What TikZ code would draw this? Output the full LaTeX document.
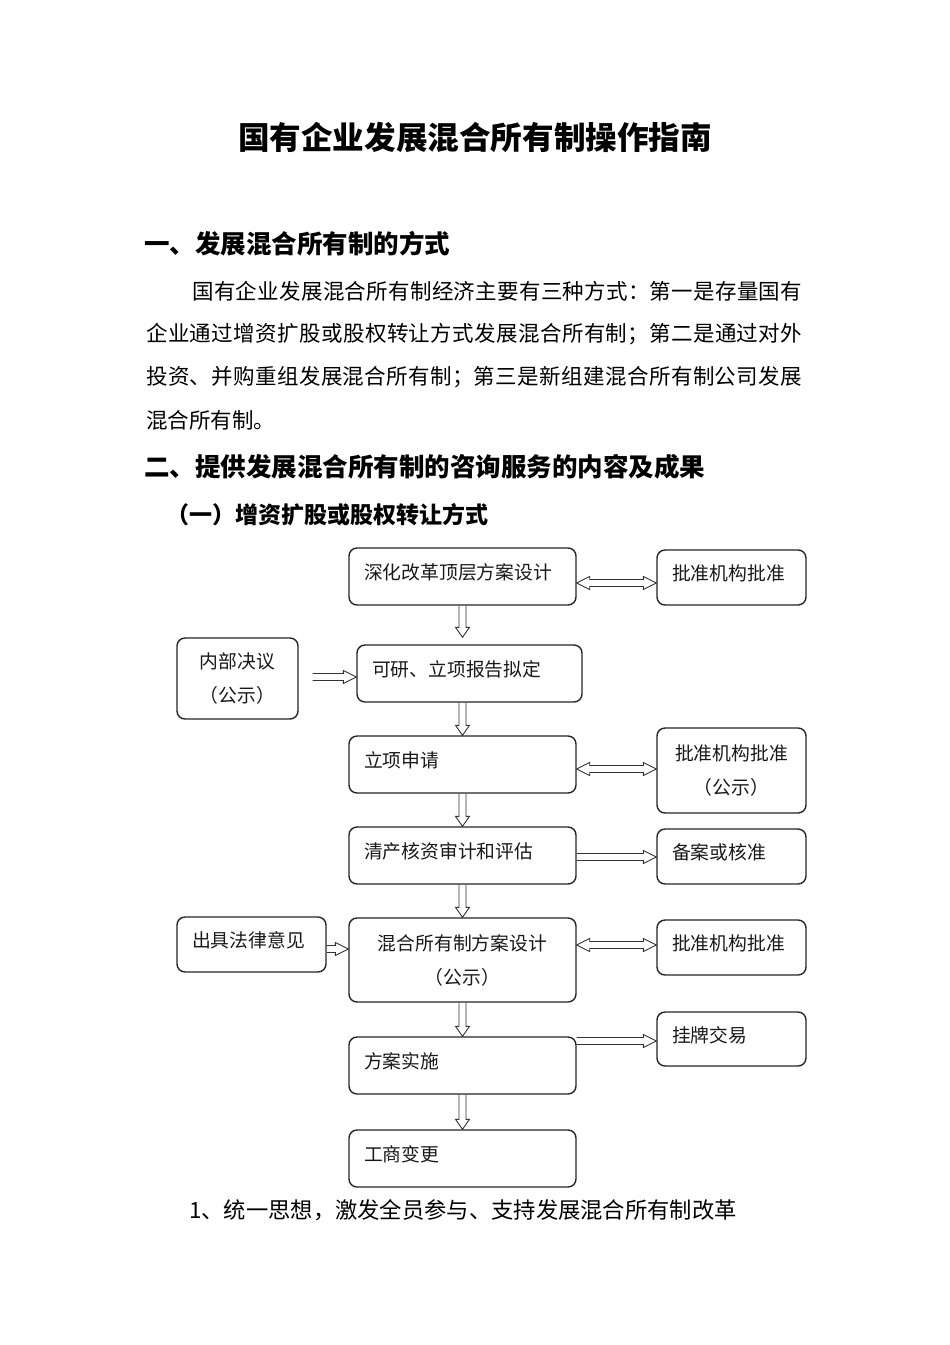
\documentclass[tikz,border=0pt]{standalone}
\usepackage{fontspec}
\setmainfont{Noto Sans CJK SC}
\usetikzlibrary{calc}
\XeTeXlinebreaklocale "zh"
\XeTeXlinebreakskip=0pt
\pgfdeclarelayer{background}
\pgfsetlayers{background,main}
\newcommand{\vdarrow}[2]{%
\draw[barrow] let \p1=(#1), \p2=(#2) in (\x1-3.5pt,\y1) -- (\x1-3.5pt,\y2+10pt) -- (\x1-7pt,\y2+10pt) -- (\x1,\y2) -- (\x1+7pt,\y2+10pt) -- (\x1+3.5pt,\y2+10pt) -- (\x1+3.5pt,\y1);}
\newcommand{\hrarrow}[3]{%
\draw[barrow] let \p1=(#1), \p2=(#2) in (\x1,-#3pt+3.5pt) -- (\x2-13pt,-#3pt+3.5pt) -- (\x2-13pt,-#3pt+6.5pt) -- (\x2,-#3pt) -- (\x2-13pt,-#3pt-6.5pt) -- (\x2-13pt,-#3pt-3.5pt) -- (\x1,-#3pt-3.5pt);}
\newcommand{\lrarrow}[3]{%
\draw[barrow] let \p1=(#1), \p2=(#2) in (\x1,-#3pt) -- (\x1+13pt,-#3pt+6.5pt) -- (\x1+13pt,-#3pt+3.5pt) -- (\x2-13pt,-#3pt+3.5pt) -- (\x2-13pt,-#3pt+6.5pt) -- (\x2,-#3pt) -- (\x2-13pt,-#3pt-6.5pt) -- (\x2-13pt,-#3pt-3.5pt) -- (\x1+13pt,-#3pt-3.5pt) -- (\x1+13pt,-#3pt-6.5pt) -- cycle;}
\newcommand{\jline}[2]{\parbox{#1}{\XeTeXlinebreakskip=0pt plus 4pt\parfillskip=0pt\noindent #2}}
\begin{document}
\begin{tikzpicture}[x=1pt,y=-1pt,
  box/.style={draw=black!85, line width=1.4pt, rounded corners=8pt, fill=white,
    inner xsep=15pt, inner ysep=0pt, font=\fontsize{18.8}{34}\selectfont, text=black!90},
  lbox/.style={box, align=left, text height=14pt, text depth=8pt},
  cbox/.style={box, align=center},
  barrow/.style={draw=black!80, line width=0.9pt, fill=white},
  txt/.style={inner sep=0pt, anchor=west, text=black},
  body/.style={txt, font=\fontsize{21.5}{26}\selectfont},
  head/.style={txt, font=\fontsize{25.5}{30}\selectfont\bfseries}]
\begin{pgfonlayer}{background}
\fill[white] (0,0) rectangle (950,1345);
\end{pgfonlayer}
\useasboundingbox (0,0) rectangle (950,1345);

% texts
\node[inner sep=0pt, font=\fontsize{31.6}{36}\selectfont\bfseries] (title) at (475,137) {国有企业发展混合所有制操作指南};
\node[head] (h1) at (144,244) {一、发展混合所有制的方式};
\node[body] (p1) at (192,291) {\jline{610pt}{国有企业发展混合所有制经济主要有三种方式：第一是存量国有}};
\node[body] (p2) at (146,334) {\jline{656pt}{企业通过增资扩股或股权转让方式发展混合所有制；第二是通过对外}};
\node[body] (p3) at (146,377) {\jline{656pt}{投资、并购重组发展混合所有制；第三是新组建混合所有制公司发展}};
\node[body] (p4) at (146,420) {混合所有制。};
\node[head] (h2) at (144,467) {二、提供发展混合所有制的咨询服务的内容及成果};
\node[txt, font=\fontsize{23}{26}\selectfont\bfseries] (h3) at (166,515) {（一）增资扩股或股权转让方式};
\node[txt, font=\fontsize{22.3}{26}\selectfont] (foot) at (189,1210) {1、统一思想，激发全员参与、支持发展混合所有制改革};

% boxes
\node[lbox, text width=197pt, minimum height=57pt] (n1) at (462.5,576.5) {深化改革顶层方案设计};
\node[lbox, text width=119pt, minimum height=55pt] (n2) at (731.5,577.5) {批准机构批准};
\node[cbox, text width=91pt, minimum height=81pt] (n3) at (237.5,678.5) {内部决议\\（公示）};
\node[lbox, text width=195pt, minimum height=57pt] (n4) at (469.5,673.5) {可研、立项报告拟定};
\node[lbox, text width=197pt, minimum height=57pt] (n5) at (462.5,764.5) {立项申请};
\node[cbox, text width=119pt, minimum height=85pt] (n6) at (731.5,770.5) {批准机构批准\\（公示）};
\node[lbox, text width=197pt, minimum height=57pt] (n7) at (462.5,855.5) {清产核资审计和评估};
\node[lbox, text width=119pt, minimum height=55pt] (n8) at (731.5,856.5) {备案或核准};
\node[lbox, text width=119pt, minimum height=55pt] (n9) at (251.5,944.5) {出具法律意见};
\node[cbox, text width=197pt, minimum height=84pt] (n10) at (462.5,960) {混合所有制方案设计\\（公示）};
\node[lbox, text width=119pt, minimum height=55pt] (n11) at (731.5,947.5) {批准机构批准};
\node[lbox, text width=119pt, minimum height=54pt] (n12) at (731.5,1039) {挂牌交易};
\node[lbox, text width=197pt, minimum height=57pt] (n13) at (462.5,1065.5) {方案实施};
\node[lbox, text width=197pt, minimum height=57pt] (n14) at (462.5,1158.5) {工商变更};

% arrows
\begin{pgfonlayer}{background}
\vdarrow{n1.south}{$(n4.north)+(0,-7)$}
\vdarrow{n5.north |- n4.south}{n5.north}
\vdarrow{n5.south}{n7.north}
\vdarrow{n7.south}{n10.north}
\vdarrow{n10.south}{n13.north}
\vdarrow{n13.south}{n14.north}
\hrarrow{$(n3.east)+(14,0)$}{n4.west}{677}
\hrarrow{n9.east}{n10.west}{949}
\hrarrow{n7.east}{n8.west}{857}
\hrarrow{n13.east}{n12.west}{1041}
\lrarrow{n1.east}{n2.west}{583}
\lrarrow{n5.east}{n6.west}{769}
\lrarrow{n10.east}{n11.west}{945}
\end{pgfonlayer}
\end{tikzpicture}
\end{document}
